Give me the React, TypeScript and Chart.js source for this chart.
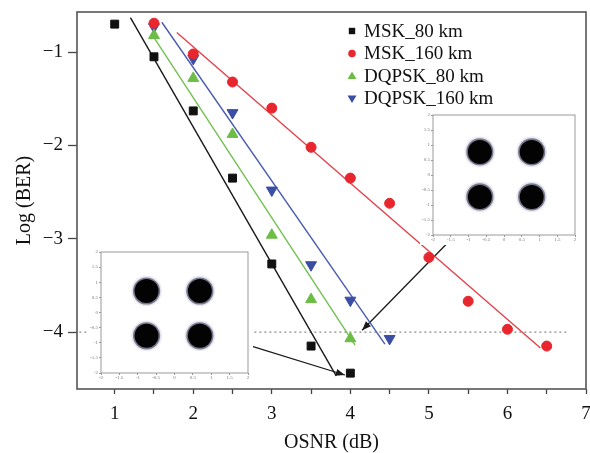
import React, { useEffect, useRef } from 'react';
import { Chart, registerables } from 'chart.js';
Chart.register(...registerables);

// ---- Main BER data (x = OSNR dB, y = log BER) ----
const osnrMsk80 = [1, 1.5, 2, 2.5, 3, 3.5, 4];
const berMsk80 = [-0.7, -1.05, -1.63, -2.35, -3.27, -4.15, -4.44];
const osnrMsk160 = [1.5, 2, 2.5, 3, 3.5, 4, 4.5, 5, 5.5, 6, 6.5];
const berMsk160 = [-0.69, -1.02, -1.32, -1.6, -2.02, -2.35, -2.62, -3.2, -3.67, -3.97, -4.15];
const osnrDq80 = [1.5, 2, 2.5, 3, 3.5, 4];
const berDq80 = [-0.82, -1.28, -1.88, -2.96, -3.65, -4.07];
const osnrDq160 = [1.5, 2, 2.5, 3, 3.5, 4, 4.5];
const berDq160 = [-0.73, -1.07, -1.65, -2.48, -3.28, -3.66, -4.07];

// fitted lines (end points)
const fitMsk80X = [1.2, 3.82];
const fitMsk80Y = [-0.63, -4.47];
const fitMsk160X = [1.79, 6.42];
const fitMsk160Y = [-0.79, -4.17];
const fitDq80X = [1.49, 4.06];
const fitDq80Y = [-0.83, -4.14];
const fitDq160X = [1.6, 4.44];
const fitDq160Y = [-0.68, -4.13];

// threshold line and arrows
const thresholdX = [0.55, 6.78];
const thresholdY = [-4, -4];
const arrow1X = [2.7, 3.93];
const arrow1Y = [-4.14, -4.46];
const arrow2X = [5.23, 4.15];
const arrow2Y = [-3.05, -3.98];

const xTicks = [1, 1.5, 2, 2.5, 3, 3.5, 4, 4.5, 5, 5.5, 6, 6.5, 7];
const yTicks = [-4, -3, -2, -1];

const seriesLabels = ['MSK_80 km', 'MSK_160 km', 'DQPSK_80 km', 'DQPSK_160 km'];

// ---- Inset constellation cluster centres ----
const inset1I = [-0.68, 0.78, -0.68, 0.78];
const inset1Q = [0.77, 0.77, -0.73, -0.73];
const inset2I = [-0.76, 0.69, -0.76, 0.69];
const inset2Q = [0.71, 0.71, -0.77, -0.77];
const insetTicks = [-2, -1.5, -1, -0.5, 0, 0.5, 1, 1.5, 2];

const zip = (xs: number[], ys: number[]) => xs.map((x, i) => ({ x, y: ys[i] }));

const SERIF = "'Liberation Serif', 'Times New Roman', serif";
const RED = '#e8262d';
const GREEN = '#6cbd45';
const BLUE = '#3b4ea5';
const BLACK = '#111111';

const noPad = (s: any) => {
  s.paddingLeft = 0;
  s.paddingRight = 0;
  s.paddingTop = 0;
  s.paddingBottom = 0;
};

const framePlugin = {
  id: 'frame',
  beforeDatasetsDraw(chart: any, _a: any, opts: any) {
    const { ctx, chartArea: a } = chart;
    ctx.save();
    ctx.strokeStyle = opts.color || '#555';
    ctx.lineWidth = opts.width || 1.5;
    ctx.strokeRect(a.left, a.top, a.right - a.left, a.bottom - a.top);
    ctx.restore();
  },
};

const arrowPlugin = {
  id: 'arrowHeads',
  afterDatasetsDraw(chart: any) {
    const ctx = chart.ctx;
    chart.data.datasets.forEach((ds: any, i: number) => {
      if (!ds.arrow) return;
      const pts = chart.getDatasetMeta(i).data;
      const a = pts[pts.length - 2];
      const b = pts[pts.length - 1];
      const ang = Math.atan2(b.y - a.y, b.x - a.x);
      const len = 9;
      const w = 3.5;
      const c = Math.cos(ang);
      const s = Math.sin(ang);
      ctx.save();
      ctx.fillStyle = ds.borderColor;
      ctx.beginPath();
      ctx.moveTo(b.x, b.y);
      ctx.lineTo(b.x - len * c + w * s, b.y - len * s - w * c);
      ctx.lineTo(b.x - len * c - w * s, b.y - len * s + w * c);
      ctx.closePath();
      ctx.fill();
      ctx.restore();
    });
  },
};

const legendPlugin = {
  id: 'customLegend',
  afterDraw(chart: any) {
    const ctx = chart.ctx;
    const mx = 352;
    const tx = 364;
    const y0 = 31;
    const dy = 22.5;
    const entries = chart.data.datasets.filter((d: any) => d.legendEntry);
    ctx.save();
    ctx.font = `19px ${SERIF}`;
    ctx.textBaseline = 'middle';
    ctx.textAlign = 'left';
    entries.forEach((d: any, i: number) => {
      const y = y0 + i * dy;
      ctx.fillStyle = d.backgroundColor;
      ctx.beginPath();
      if (d.pointStyle === 'rect') {
        ctx.rect(mx - 3.2, y - 3.2, 6.4, 6.4);
      } else if (d.pointStyle === 'circle') {
        ctx.arc(mx, y, 3.8, 0, Math.PI * 2);
      } else if (d.pointRotation === 180) {
        ctx.moveTo(mx - 4.5, y - 3);
        ctx.lineTo(mx + 4.5, y - 3);
        ctx.lineTo(mx, y + 4.5);
        ctx.closePath();
      } else {
        ctx.moveTo(mx - 4.5, y + 3);
        ctx.lineTo(mx + 4.5, y + 3);
        ctx.lineTo(mx, y - 4.5);
        ctx.closePath();
      }
      ctx.fill();
      ctx.fillStyle = '#111';
      ctx.fillText(d.label, tx, y + 1);
    });
    ctx.restore();
  },
};

const markerSet = (label: string, xs: number[], ys: number[], color: string, style: string, radius: number, rotation = 0) => ({
  label,
  data: zip(xs, ys),
  showLine: false,
  backgroundColor: color,
  borderColor: color,
  borderWidth: 1,
  pointStyle: style,
  pointRotation: rotation,
  pointRadius: radius,
  legendEntry: true,
});

const lineSet = (xs: number[], ys: number[], color: string, width: number, dash: number[] = [], arrow = false) => ({
  label: '',
  data: zip(xs, ys),
  showLine: true,
  borderColor: color,
  backgroundColor: color,
  borderWidth: width,
  borderDash: dash,
  pointRadius: 0,
  fill: false,
  arrow,
});

function makeInsetConfig(I: number[], Q: number[], yWidth: number, xHeight: number, padTop: number, padRight: number) {
  const tickFont = { family: SERIF, size: 5 };
  return {
    type: 'scatter',
    data: {
      datasets: [
        { data: zip(I, Q), pointRadius: 12, backgroundColor: '#030303', borderColor: '#030303', borderWidth: 0 },
        { data: zip(I, Q), pointRadius: 13.6, backgroundColor: 'rgba(10,10,40,0.5)', borderColor: 'rgba(10,10,40,0.5)', borderWidth: 0 },
        { data: zip(I, Q), pointRadius: 15.3, backgroundColor: 'rgba(60,60,140,0.12)', borderColor: 'rgba(60,60,140,0.12)', borderWidth: 0 },
      ],
    },
    options: {
      animation: false,
      responsive: false,
      events: [],
      layout: { autoPadding: false, padding: { top: padTop, right: padRight, left: 0, bottom: 0 } },
      plugins: { legend: { display: false }, tooltip: { enabled: false }, frame: { color: '#9a9a9a', width: 1 } },
      scales: {
        x: {
          type: 'linear', min: -2, max: 2,
          afterBuildTicks: (s: any) => { s.ticks = insetTicks.map((v) => ({ value: v })); },
          afterFit: (s: any) => { s.height = xHeight; noPad(s); },
          grid: { drawOnChartArea: false, tickLength: 2, color: '#999' },
          border: { display: false },
          ticks: { font: tickFont, color: '#777', padding: 0, autoSkip: false, maxRotation: 0, callback: (v: any) => String(v) },
        },
        y: {
          type: 'linear', min: -2, max: 2,
          afterBuildTicks: (s: any) => { s.ticks = insetTicks.map((v) => ({ value: v })); },
          afterFit: (s: any) => { s.width = yWidth; noPad(s); },
          grid: { drawOnChartArea: false, tickLength: 2, color: '#999' },
          border: { display: false },
          ticks: { font: tickFont, color: '#777', padding: 1, autoSkip: false, callback: (v: any) => String(v) },
        },
      },
    },
    plugins: [framePlugin],
  };
}

export default function App() {
  const mainRef = useRef<HTMLCanvasElement>(null);
  const in1Ref = useRef<HTMLCanvasElement>(null);
  const in2Ref = useRef<HTMLCanvasElement>(null);

  useEffect(() => {
    document.body.style.margin = '0';
    const tickFont = { family: SERIF, size: 19 };
    const titleFont = { family: SERIF, size: 20, lineHeight: 1 };
    const main = new Chart(mainRef.current as HTMLCanvasElement, {
      type: 'scatter',
      data: {
        datasets: [
          markerSet(seriesLabels[0], osnrMsk80, berMsk80, BLACK, 'rect', 5.6),
          markerSet(seriesLabels[1], osnrMsk160, berMsk160, RED, 'circle', 5),
          markerSet(seriesLabels[2], osnrDq80, berDq80, GREEN, 'triangle', 6.3),
          markerSet(seriesLabels[3], osnrDq160, berDq160, BLUE, 'triangle', 6.3, 180),
          lineSet(fitMsk80X, fitMsk80Y, '#1a1a1a', 1.4),
          lineSet(fitMsk160X, fitMsk160Y, '#e5414a', 1.4),
          lineSet(fitDq80X, fitDq80Y, '#72c052', 1.4),
          lineSet(fitDq160X, fitDq160Y, '#4a5cb0', 1.4),
          lineSet(arrow1X, arrow1Y, '#1a1a1a', 1.3, [], true),
          lineSet(arrow2X, arrow2Y, '#1a1a1a', 1.3, [], true),
          lineSet(thresholdX, thresholdY, '#8a8a8a', 1.2, [2, 3]),
        ] as any,
      },
      options: {
        animation: false,
        responsive: false,
        events: [],
        layout: { autoPadding: false, padding: { top: 12, right: 4, left: 0, bottom: 0 } },
        plugins: { legend: { display: false }, tooltip: { enabled: false }, frame: { color: '#555', width: 1.6 } } as any,
        scales: {
          x: {
            type: 'linear', min: 0.52, max: 7,
            afterBuildTicks: (s: any) => { s.ticks = xTicks.map((v) => ({ value: v })); },
            afterFit: (s: any) => { s.height = 64; noPad(s); },
            grid: { drawOnChartArea: false, tickLength: 5, color: '#444', tickWidth: 1.3 } as any,
            border: { display: false },
            ticks: {
              font: tickFont, color: '#111', padding: 9, autoSkip: false, maxRotation: 0,
              callback: (v: any) => (Number.isInteger(v) ? String(v) : ''),
            },
            title: { display: true, text: 'OSNR (dB)', font: titleFont, color: '#111', padding: { top: 0, bottom: 0 } },
          },
          y: {
            type: 'linear', min: -4.61, max: -0.57,
            afterBuildTicks: (s: any) => { s.ticks = yTicks.map((v) => ({ value: v })); },
            afterFit: (s: any) => { s.width = 77; noPad(s); },
            grid: { drawOnChartArea: false, tickLength: 9, color: '#444', tickWidth: 1.3 } as any,
            border: { display: false },
            ticks: {
              font: tickFont, color: '#111', padding: 5,
              callback: (v: any) => (v < 0 ? '\u2212' + Math.abs(v) : String(v)),
            },
            title: { display: true, text: 'Log (BER)', font: titleFont, color: '#111', padding: { top: 15, bottom: 0 } },
          },
        },
      } as any,
      plugins: [framePlugin, arrowPlugin, legendPlugin],
    });
    const in1 = new Chart(in1Ref.current as HTMLCanvasElement, makeInsetConfig(inset1I, inset1Q, 13, 10, 5, 5) as any);
    const in2 = new Chart(in2Ref.current as HTMLCanvasElement, makeInsetConfig(inset2I, inset2Q, 13, 9, 6, 5) as any);
    return () => {
      main.destroy();
      in1.destroy();
      in2.destroy();
    };
  }, []);

  return (
    <div style={{ position: 'fixed', left: 0, top: 0, width: 590, height: 453, background: '#fff' }}>
      <canvas ref={mainRef} width={590} height={453} style={{ position: 'absolute', left: 0, top: 0 }} />
      <canvas ref={in1Ref} width={160} height={135} style={{ position: 'absolute', left: 420, top: 110, background: '#fff' }} />
      <canvas ref={in2Ref} width={165} height={136} style={{ position: 'absolute', left: 88, top: 246, background: '#fff' }} />
    </div>
  );
}
